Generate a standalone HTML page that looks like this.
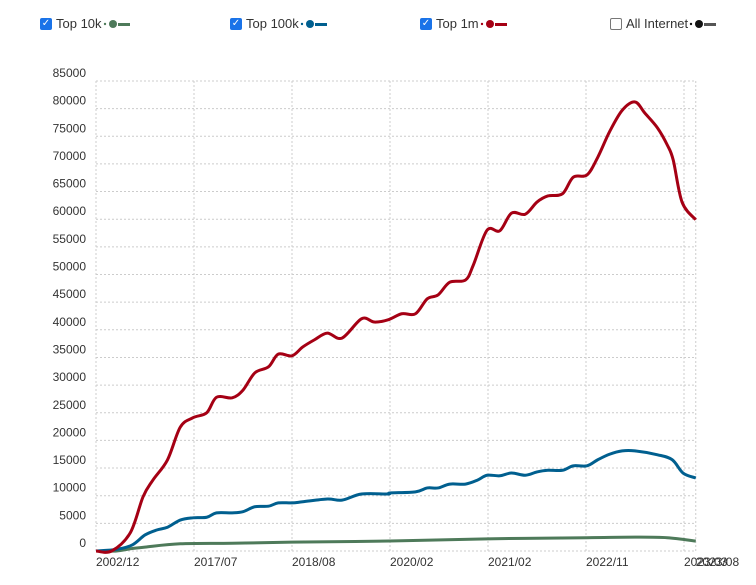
<!DOCTYPE html>
<html><head><meta charset="utf-8"><style>
body{margin:0;background:#fff;font-family:"Liberation Sans",sans-serif}
.leg{position:absolute;top:16px;display:flex;align-items:center;font-size:13px;color:#333}
.cb{width:12px;height:12px;border-radius:2px;margin-right:4px;display:flex;align-items:center;justify-content:center;color:#fff;font-size:10px;box-sizing:border-box}
.on{background:#1a73e8}.off{border:1px solid #777;background:#fff}
</style></head><body>
<div style="position:relative;width:756px;height:585px">
<div class="leg" style="left:40px"><div class="cb on">✓</div>Top 10k <svg width="30" height="10"><circle cx="3" cy="5" r="1.2" fill="#4e7a5a"/><circle cx="11" cy="5" r="4" fill="#4e7a5a"/><rect x="16" y="4" width="12" height="3" fill="#4e7a5a"/></svg></div>
<div class="leg" style="left:230px"><div class="cb on">✓</div>Top 100k <svg width="30" height="10"><circle cx="3" cy="5" r="1.2" fill="#005f8f"/><circle cx="11" cy="5" r="4" fill="#005f8f"/><rect x="16" y="4" width="12" height="3" fill="#005f8f"/></svg></div>
<div class="leg" style="left:420px"><div class="cb on">✓</div>Top 1m <svg width="30" height="10"><circle cx="3" cy="5" r="1.2" fill="#a50014"/><circle cx="11" cy="5" r="4" fill="#a50014"/><rect x="16" y="4" width="12" height="3" fill="#a50014"/></svg></div>
<div class="leg" style="left:610px"><div class="cb off"></div>All Internet <svg width="30" height="10"><circle cx="3" cy="5" r="1.2" fill="#111"/><circle cx="11" cy="5" r="4" fill="#111"/><rect x="16" y="4" width="12" height="3" fill="#555"/></svg></div>
<svg id="c" width="756" height="585" style="position:absolute;left:0;top:0"></svg>
</div>
<script>
const yTicks=[0,5000,10000,15000,20000,25000,30000,35000,40000,45000,50000,55000,60000,65000,70000,75000,80000,85000];
const xTickPos=[0,10,20,30,40,50,60,61.2];
const xTickLabels=["2002/12","2017/07","2018/08","2020/02","2021/02","2022/11","2023/03","2023/08"];
const redT=[0,1.6,3.5,4.8,5.8,7.3,8.6,9.9,11.3,12.3,13.9,15,16.2,17.6,18.6,20,21.1,22.3,23.6,25.1,27.1,28.4,29.8,31.2,32.6,33.8,34.9,36.1,37.7,38.5,39.9,41.2,42.4,43.8,45,46.1,47.6,48.7,50.1,51.2,52.4,53.7,55,56,57.3,58.3,58.9,59.8,61.2];
const redV=[0,0,3.3,9.8,12.8,16.5,22.4,24.1,25.0,27.8,27.7,29.1,32.2,33.3,35.6,35.3,36.9,38.2,39.4,38.5,42.0,41.4,41.8,42.9,42.9,45.6,46.3,48.6,49.0,51.7,58.0,57.9,61.1,60.9,63.1,64.2,64.6,67.6,68.0,71.2,75.8,79.7,81.2,79.2,76.5,73.4,70.7,63.1,59.9];
const blueT=[0,2.1,3.7,5.0,6.2,7.3,8.6,9.9,11.3,12.3,13.9,15,16.2,17.6,18.6,20,21.1,23.6,25.1,27.1,29.8,30,32.6,33.8,34.9,36.1,37.7,38.9,39.9,41.2,42.4,43.8,45,46.1,47.6,48.7,50.1,51.2,52.4,53.7,55,57.3,58.8,59.9,61.2];
const blueV=[0,0.3,1.1,2.9,3.8,4.3,5.6,6.0,6.1,6.9,6.9,7.1,8.0,8.1,8.7,8.7,8.9,9.4,9.2,10.3,10.3,10.5,10.7,11.4,11.4,12.1,12.1,12.8,13.7,13.6,14.1,13.7,14.3,14.6,14.6,15.4,15.4,16.5,17.5,18.1,18.1,17.4,16.5,14.1,13.2];
const greenT=[0,2.1,3.5,5.0,8.6,13.9,20,30,39.9,50.1,55,58.3,61.2];
const greenV=[0,0,0.4,0.7,1.3,1.4,1.6,1.8,2.2,2.4,2.5,2.4,1.8];
const X0=96,XU=9.8,Y0=551,YK=5.53/1000;
const x=t=>X0+t*XU, y=v=>Y0-v*YK;
const s=document.getElementById('c'),NS='http://www.w3.org/2000/svg';
function mk(tag,at){const e=document.createElementNS(NS,tag);for(const k in at)e.setAttribute(k,at[k]);s.appendChild(e);return e;}
yTicks.forEach(v=>{
 const l=mk('line',{x1:X0,x2:x(61.2),y1:y(v),y2:y(v),stroke:'#ccc','stroke-dasharray':'2,2'});
 
 
 const t=mk('text',{x:86,y:y(v)-4,'text-anchor':'end','font-size':12,fill:'#333'});t.textContent=v;
 
 
});
xTickPos.forEach((p,i)=>{
 const l=mk('line',{x1:x(p),x2:x(p),y1:y(85000),y2:Y0,stroke:'#ccc','stroke-dasharray':'2,2'});
 
 
 const t=mk('text',{x:x(p),y:566,'font-size':12,fill:'#333'});t.textContent=xTickLabels[i];
 
 
});
function path(T,V){
 const P=T.map((t,i)=>[x(t),y(V[i]*1000)]);let d='M'+P[0][0]+','+P[0][1];
 for(let i=0;i<P.length-1;i++){const p0=P[i-1]||P[i],p1=P[i],p2=P[i+1],p3=P[i+2]||p2;
  const c1=[p1[0]+(p2[0]-p0[0])/6,p1[1]+(p2[1]-p0[1])/6],c2=[p2[0]-(p3[0]-p1[0])/6,p2[1]-(p3[1]-p1[1])/6];
  d+=`C${c1[0]},${c1[1]} ${c2[0]},${c2[1]} ${p2[0]},${p2[1]}`;}
 return d;}
const g=mk('path',{d:path(greenT,greenV),fill:'none',stroke:'#4e7a5a','stroke-width':3});


const b=mk('path',{d:path(blueT,blueV),fill:'none',stroke:'#005f8f','stroke-width':3});


const r=mk('path',{d:path(redT,redV),fill:'none',stroke:'#a50014','stroke-width':3});


</script>
</body></html>
